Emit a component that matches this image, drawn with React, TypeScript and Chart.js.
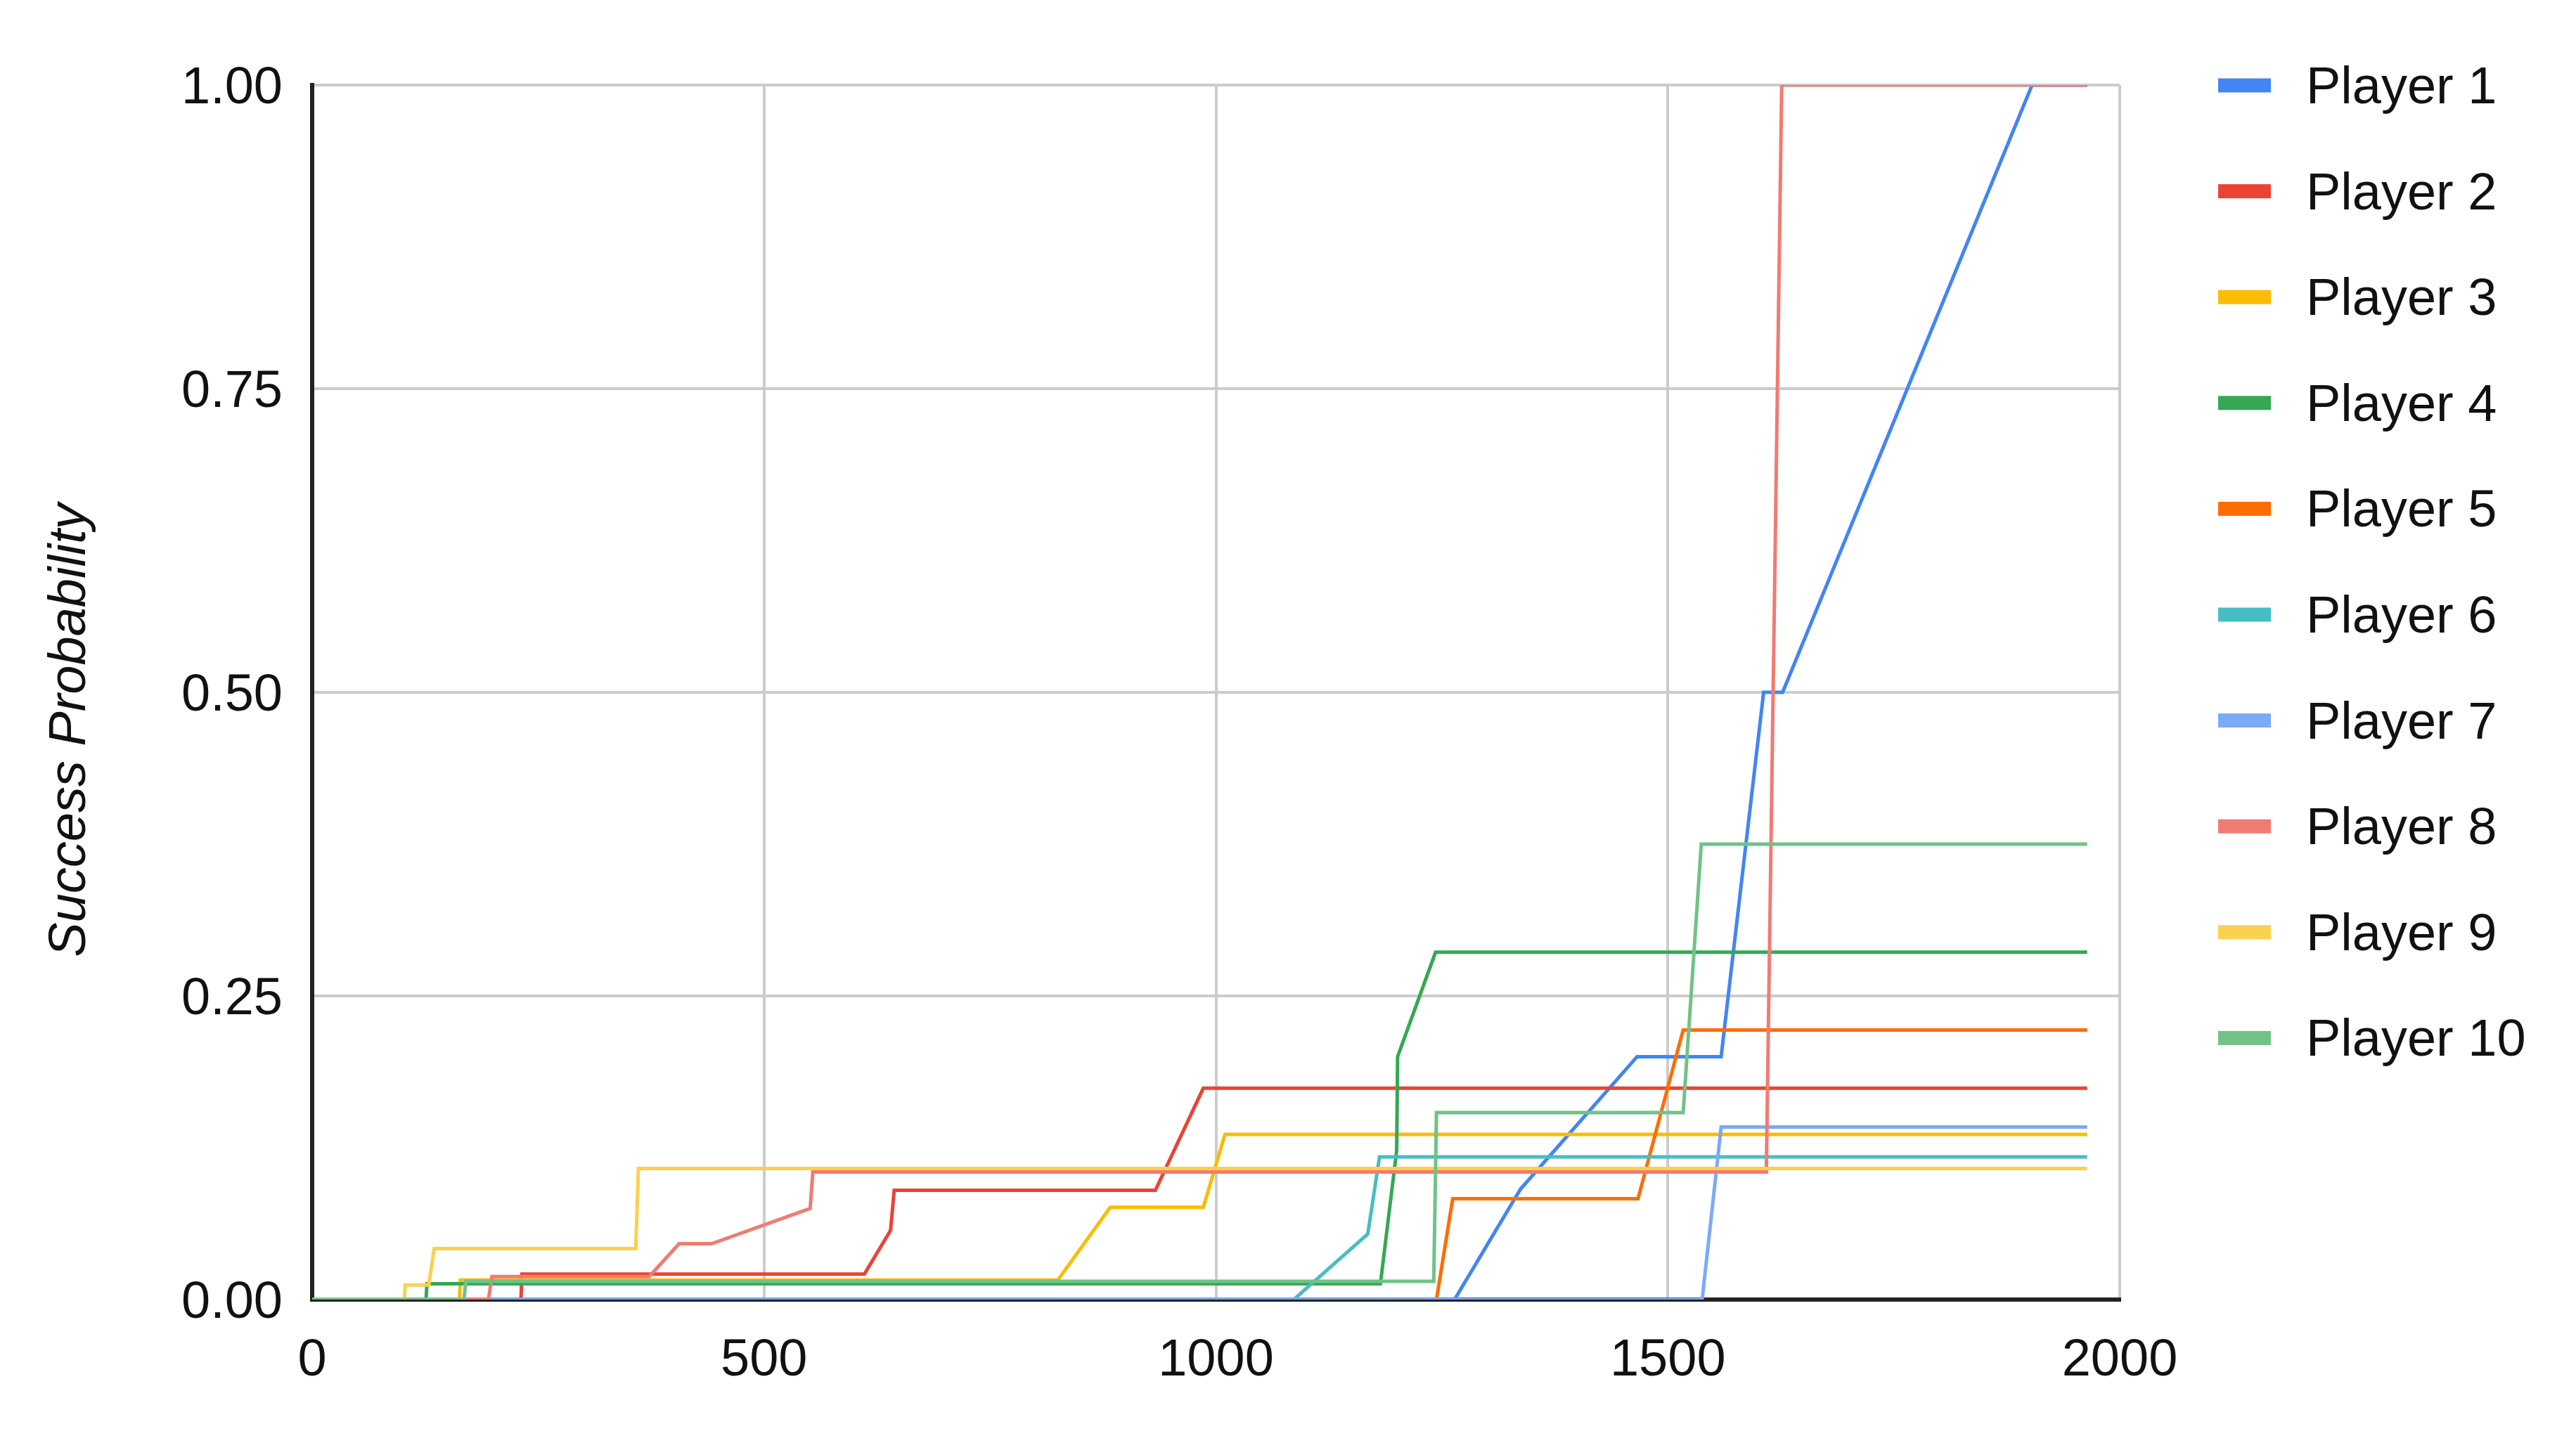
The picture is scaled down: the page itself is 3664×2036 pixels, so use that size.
import React, { useEffect, useRef } from 'react';
import { Chart, registerables } from 'chart.js';

Chart.register(...registerables);

const W = 3664;
const H = 2036;

const xTicks = [0, 500, 1000, 1500, 2000];
const yTicks = [0, 0.25, 0.5, 0.75, 1];
const yTitle = 'Success Probability';

const playerNames = [
  'Player 1', 'Player 2', 'Player 3', 'Player 4', 'Player 5',
  'Player 6', 'Player 7', 'Player 8', 'Player 9', 'Player 10',
];

const playerColors = [
  '#4285F4', '#EA4335', '#FBBC04', '#34A853', '#FF6D01',
  '#46BDC6', '#7BAAF7', '#F07B72', '#FCD04F', '#71C287',
];

const p1X = [0, 1264, 1337, 1466, 1559, 1606, 1627, 1903, 1964];
const p1Y = [0, 0, 0.091, 0.2, 0.2, 0.5, 0.5, 1.0, 1.0];

const p2X = [0, 231, 232, 611, 640, 644, 933, 986, 1964];
const p2Y = [0, 0, 0.021, 0.021, 0.057, 0.09, 0.09, 0.174, 0.174];

const p3X = [0, 163, 164, 825, 883, 986, 1010, 1964];
const p3Y = [0, 0, 0.016, 0.016, 0.076, 0.076, 0.136, 0.136];

const p4X = [0, 126, 127, 1182, 1200, 1201, 1243, 1964];
const p4Y = [0, 0, 0.013, 0.013, 0.123, 0.2, 0.286, 0.286];

const p5X = [0, 1244, 1262, 1467, 1517, 1964];
const p5Y = [0, 0, 0.083, 0.083, 0.222, 0.222];

const p6X = [0, 1086, 1168, 1181, 1964];
const p6Y = [0, 0, 0.054, 0.1175, 0.1175];

const p7X = [0, 1538, 1559, 1964];
const p7Y = [0, 0, 0.142, 0.142];

const p8X = [0, 195, 199, 373, 406, 442, 551, 554, 1609, 1626, 1964];
const p8Y = [0, 0, 0.019, 0.019, 0.046, 0.046, 0.075, 0.105, 0.105, 1.0, 1.0];

const p9X = [0, 102, 103, 129, 135, 358, 361, 1964];
const p9Y = [0, 0, 0.012, 0.012, 0.042, 0.042, 0.108, 0.108];

const p10X = [0, 168, 170, 1241, 1244, 1517, 1537, 1964];
const p10Y = [0, 0, 0.015, 0.015, 0.154, 0.154, 0.375, 0.375];

const seriesX = [p1X, p2X, p3X, p4X, p5X, p6X, p7X, p8X, p9X, p10X];
const seriesY = [p1Y, p2Y, p3Y, p4Y, p5Y, p6Y, p7Y, p8Y, p9Y, p10Y];

const FONT = '"Liberation Sans", Arial, Helvetica, sans-serif';
const FONT_SIZE = 74;
const TEXT_COLOR = '#111111';

const overlayPlugin = {
  id: 'overlayPlugin',
  afterDraw(chart: any) {
    const ctx = chart.ctx as CanvasRenderingContext2D;
    const area = chart.chartArea;
    // y axis title
    ctx.save();
    ctx.font = `italic ${FONT_SIZE}px ${FONT}`;
    ctx.fillStyle = TEXT_COLOR;
    ctx.textAlign = 'center';
    ctx.textBaseline = 'middle';
    ctx.translate(area.left - 344, (area.top + area.bottom) / 2 + 54);
    ctx.rotate(-Math.PI / 2);
    ctx.fillText(yTitle, 0, 0);
    ctx.restore();

    // legend
    ctx.save();
    ctx.font = `${FONT_SIZE}px ${FONT}`;
    ctx.textAlign = 'left';
    ctx.textBaseline = 'middle';
    const sx = area.right + 140;
    const spacing = 150.6;
    chart.data.datasets.forEach((ds: any, i: number) => {
      const cy = area.top + 0.5 + i * spacing;
      ctx.fillStyle = ds.borderColor;
      ctx.fillRect(sx, cy - 10, 75, 20);
      ctx.fillStyle = TEXT_COLOR;
      ctx.fillText(ds.label, sx + 125, cy + 5);
    });
    ctx.restore();
  },
};

export default function App() {
  const ref = useRef<HTMLCanvasElement | null>(null);

  useEffect(() => {
    if (!ref.current) return;
    const datasets = playerNames.map((name, i) => ({
      label: name,
      data: seriesX[i].map((x, j) => ({ x, y: seriesY[i][j] })),
      borderColor: playerColors[i],
      backgroundColor: playerColors[i],
      borderWidth: 5,
      pointRadius: 0,
      pointHoverRadius: 0,
      tension: 0,
      fill: false,
      order: playerNames.length - i,
    }));

    const chart = new Chart(ref.current, {
      type: 'line',
      data: { datasets },
      options: {
        responsive: false,
        animation: false,
        devicePixelRatio: 1,
        layout: { padding: { left: 0, top: 121, right: W - 3015, bottom: 0 } },
        plugins: {
          legend: { display: false },
          tooltip: { enabled: false },
          title: { display: false },
        },
        scales: {
          x: {
            type: 'linear',
            min: 0,
            max: 2000,
            afterBuildTicks: (s: any) => {
              s.ticks = xTicks.map((v) => ({ value: v }));
            },
            afterFit: (s: any) => {
              s.height = H - 1849;
            },
            ticks: {
              callback: (v: any) => String(v),
              font: { family: FONT, size: FONT_SIZE },
              color: TEXT_COLOR,
              padding: 43,
              maxRotation: 0,
              autoSkip: false,
            },
            grid: { color: '#cccccc', lineWidth: 4, drawTicks: false },
            border: { color: '#222222', width: 6 },
          },
          y: {
            type: 'linear',
            min: 0,
            max: 1,
            afterBuildTicks: (s: any) => {
              s.ticks = yTicks.map((v) => ({ value: v }));
            },
            afterFit: (s: any) => {
              s.width = 444;
            },
            ticks: {
              callback: (v: any) => Number(v).toFixed(2),
              font: { family: FONT, size: FONT_SIZE },
              color: TEXT_COLOR,
              padding: 42,
              labelOffset: 6,
              autoSkip: false,
            },
            grid: { color: '#cccccc', lineWidth: 4, drawTicks: false },
            border: { color: '#222222', width: 6 },
          },
        },
      },
      plugins: [overlayPlugin],
    });
    return () => chart.destroy();
  }, []);

  return (
    <div style={{ position: 'absolute', left: 0, top: 0, width: W, height: H, background: '#ffffff' }}>
      <canvas ref={ref} width={W} height={H} style={{ display: 'block', width: W, height: H }} />
    </div>
  );
}
